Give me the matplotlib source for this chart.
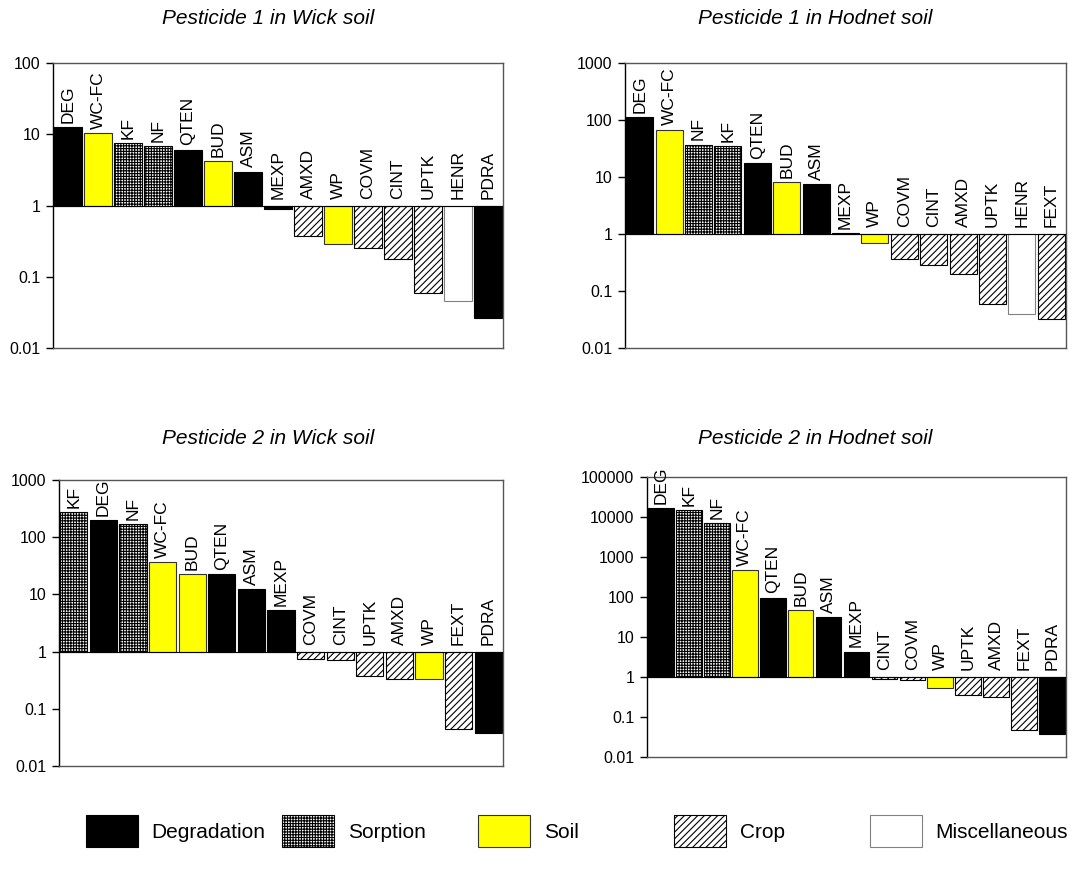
import matplotlib
matplotlib.use("Agg")
import matplotlib.pyplot as plt
from matplotlib.patches import Patch
from matplotlib.ticker import FixedLocator, FixedFormatter, NullLocator
import numpy as np

plt.rcParams['font.family'] = ['Liberation Sans', 'DejaVu Sans']
plt.rcParams['hatch.linewidth'] = 0.8

# ---------------- data ----------------
p1w_title = "Pesticide 1 in Wick soil"
p1w_labels = ["DEG", "WC-FC", "KF", "NF", "QTEN", "BUD", "ASM", "MEXP", "AMXD", "WP",
              "COVM", "CINT", "UPTK", "HENR", "PDRA"]
p1w_values = [12.5, 10.3, 7.6, 6.8, 6.1, 4.2, 3.0, 0.9, 0.37, 0.29, 0.25, 0.18, 0.06, 0.045, 0.026]
p1w_groups = ["Degradation", "Soil", "Sorption", "Sorption", "Degradation", "Soil", "Degradation",
              "Degradation", "Crop", "Soil", "Crop", "Crop", "Crop", "Miscellaneous", "Degradation"]

p1h_title = "Pesticide 1 in Hodnet soil"
p1h_labels = ["DEG", "WC-FC", "NF", "KF", "QTEN", "BUD", "ASM", "MEXP", "WP", "COVM",
              "CINT", "AMXD", "UPTK", "HENR", "FEXT"]
p1h_values = [113, 68, 37, 35, 17.5, 8.1, 7.4, 1.04, 0.69, 0.37, 0.29, 0.197, 0.058, 0.039, 0.032]
p1h_groups = ["Degradation", "Soil", "Sorption", "Sorption", "Degradation", "Soil", "Degradation",
              "Degradation", "Soil", "Crop", "Crop", "Crop", "Crop", "Miscellaneous", "Crop"]

p2w_title = "Pesticide 2 in Wick soil"
p2w_labels = ["KF", "DEG", "NF", "WC-FC", "BUD", "QTEN", "ASM", "MEXP", "COVM", "CINT",
              "UPTK", "AMXD", "WP", "FEXT", "PDRA"]
p2w_values = [279, 200, 168, 37, 23, 22.6, 12.2, 5.4, 0.75, 0.72, 0.37, 0.335, 0.335, 0.045, 0.037]
p2w_groups = ["Sorption", "Degradation", "Sorption", "Soil", "Soil", "Degradation", "Degradation",
              "Degradation", "Crop", "Crop", "Crop", "Crop", "Soil", "Crop", "Degradation"]

p2h_title = "Pesticide 2 in Hodnet soil"
p2h_labels = ["DEG", "KF", "NF", "WC-FC", "QTEN", "BUD", "ASM", "MEXP", "CINT", "COVM",
              "WP", "UPTK", "AMXD", "FEXT", "PDRA"]
p2h_values = [17000, 14900, 7050, 460, 97, 47, 32, 4.3, 0.87, 0.86, 0.52, 0.355, 0.32, 0.047, 0.038]
p2h_groups = ["Degradation", "Sorption", "Sorption", "Soil", "Degradation", "Soil", "Degradation",
              "Degradation", "Crop", "Crop", "Soil", "Crop", "Crop", "Crop", "Degradation"]

p1_ticks = [0.01, 0.1, 1, 10, 100]
p1_ticklabels = ["0.01", "0.1", "1", "10", "100"]
p3_ticks = [0.01, 0.1, 1, 10, 100, 1000]
p3_ticklabels = ["0.01", "0.1", "1", "10", "100", "1000"]
p4_ticks = [0.01, 0.1, 1, 10, 100, 1000, 10000, 100000]
p4_ticklabels = ["0.01", "0.1", "1", "10", "100", "1000", "10000", "100000"]

legend_groups = ["Degradation", "Sorption", "Soil", "Crop", "Miscellaneous"]

# ---------------- styles ----------------
styles = {
    "Degradation": dict(facecolor="black", edgecolor="black", hatch=None),
    "Sorption": dict(facecolor="white", edgecolor="black", hatch="++++++"),
    "Soil": dict(facecolor="#FFFF00", edgecolor="#333333", hatch=None),
    "Crop": dict(facecolor="white", edgecolor="black", hatch="/////"),
    "Miscellaneous": dict(facecolor="white", edgecolor="#808080", hatch=None),
}

W, H = 1088, 877
fig = plt.figure(figsize=(W / 100, H / 100), dpi=100)


def px_axes(x0, y0, x1, y1):
    return fig.add_axes([x0 / W, 1 - y1 / H, (x1 - x0) / W, (y1 - y0) / H])


def draw_panel(ax, labels, values, groups, ticks, ticklabels, title, title_xy):
    x = np.arange(len(labels))
    vals = np.array(values, dtype=float)
    for g in styles:
        idx = [i for i, gg in enumerate(groups) if gg == g]
        if not idx:
            continue
        st = styles[g]
        ax.bar(x[idx], vals[idx] - 1, bottom=1, width=0.92,
               facecolor=st["facecolor"], edgecolor=st["edgecolor"],
               hatch=st["hatch"], linewidth=0.8, zorder=2)
    ax.set_yscale("log")
    ax.set_ylim(ticks[0], ticks[-1])
    ax.set_xlim(-0.5, len(labels) - 0.5)
    ax.yaxis.set_major_locator(FixedLocator(ticks))
    ax.yaxis.set_major_formatter(FixedFormatter(ticklabels))
    ax.yaxis.set_minor_locator(NullLocator())
    ax.set_xticks([])
    ax.tick_params(axis="y", direction="out", length=5, width=1, labelsize=11.5, pad=4)
    for s in ["top", "right", "bottom"]:
        ax.spines[s].set_color("#555555")
        ax.spines[s].set_linewidth(1)
    ax.spines["left"].set_color("black")
    ax.spines["left"].set_linewidth(1)
    ax.axhline(1, color="black", lw=0.8, zorder=3)
    for i, (lab, v) in enumerate(zip(labels, values)):
        if v >= 1:
            ax.annotate(lab, xy=(i, v), xytext=(0, 3), textcoords="offset points",
                        rotation=90, ha="center", va="bottom", fontsize=12.5)
        else:
            ax.annotate(lab, xy=(i, 1), xytext=(0, 5), textcoords="offset points",
                        rotation=90, ha="center", va="bottom", fontsize=12.5)
    fig.text(title_xy[0] / W, 1 - title_xy[1] / H, title, ha="center", va="center",
             fontsize=15, style="italic")


ax1 = px_axes(53, 63, 503, 348)
draw_panel(ax1, p1w_labels, p1w_values, p1w_groups, p1_ticks, p1_ticklabels, p1w_title, (268, 19))
ax2 = px_axes(625, 63, 1066, 348)
draw_panel(ax2, p1h_labels, p1h_values, p1h_groups, p3_ticks, p3_ticklabels, p1h_title, (815, 19))
ax3 = px_axes(59, 480, 503, 766)
draw_panel(ax3, p2w_labels, p2w_values, p2w_groups, p3_ticks, p3_ticklabels, p2w_title, (268, 438))
ax4 = px_axes(647, 477, 1066, 757)
draw_panel(ax4, p2h_labels, p2h_values, p2h_groups, p4_ticks, p4_ticklabels, p2h_title, (815, 438))

# ---------------- legend ----------------
legend_box_x = [86, 282, 478, 674, 870]
for g, bx in zip(legend_groups, legend_box_x):
    st = styles[g]
    h = Patch(facecolor=st["facecolor"], edgecolor=st["edgecolor"], hatch=st["hatch"], linewidth=0.8)
    fig.legend([h], [g], loc="center left", bbox_to_anchor=(bx / W, 1 - 831 / H),
               frameon=False, fontsize=15, handlelength=2.5, handleheight=2.0,
               handletextpad=0.65, borderpad=0, borderaxespad=0)

fig.savefig("out.png", dpi=100)
